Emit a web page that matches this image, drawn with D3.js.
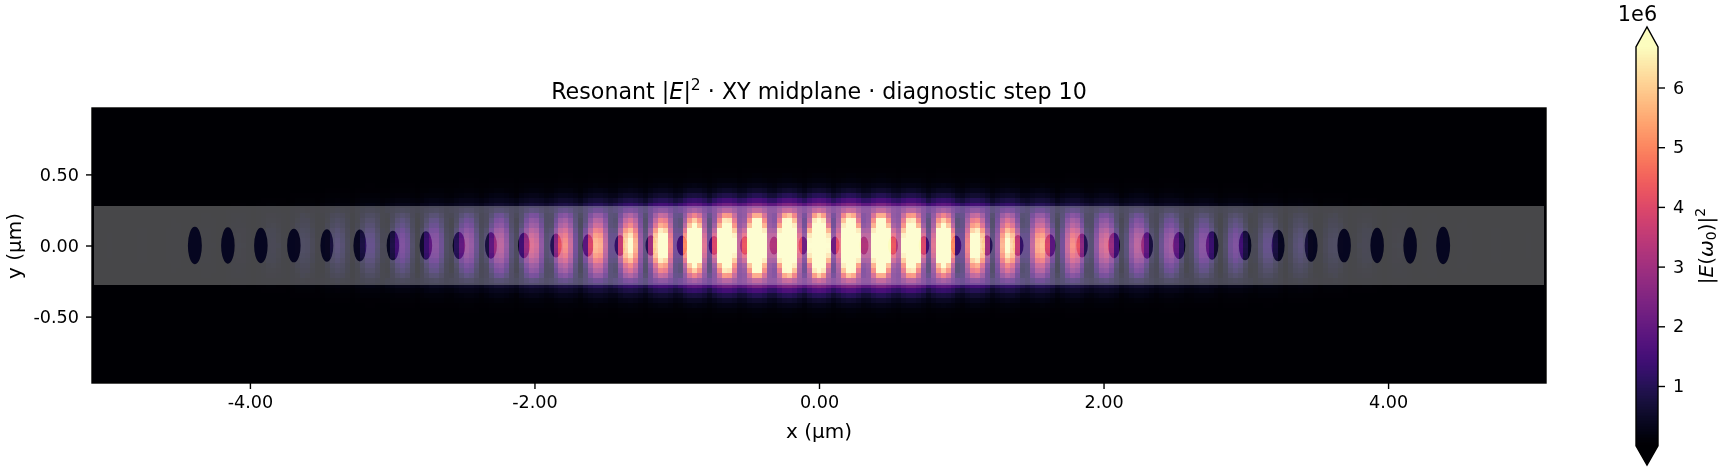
<!DOCTYPE html>
<html><head><meta charset="utf-8"><title>Resonant field</title>
<style>html,body{margin:0;padding:0;background:#fff}svg{display:block}text{font-family:"DejaVu Sans",sans-serif;fill:#000}</style>
<script src="https://cdn.jsdelivr.net/npm/d3@7"></script></head><body>
<svg id="c" width="1721" height="469"></svg>
<script>
// Estimates. The field cells are composed from these read
// tables (lobe peaks x cross-section profiles); it is not the source's raw grid.
const xTicks = [-4, -2, 0, 2, 4];
const yTicks = [-0.5, 0, 0.5];
const cbarTicks = [1, 2, 3, 4, 5, 6];
const titleParts = ["Resonant |", "E", "|", "2", " · XY midplane · diagnostic step 10"];
const xExtent = [-5.11, 5.11];
const yExtent = [-0.967, 0.967];
const vRange = [0, 6.68]; // x 1e6
const guideHalfHeight = 0.278;
// hole positions on +x side (mirrored), µm; full width and height, µm
const holeX = [0.112,0.316,0.52,0.738,0.963,1.181,1.399,1.624,1.849,2.074,2.306,2.531,2.763,2.995,3.227,3.459,3.691,3.923,4.155,4.387];
const holeW = [0.063,0.063,0.07,0.074,0.074,0.077,0.077,0.077,0.081,0.084,0.084,0.088,0.088,0.088,0.091,0.091,0.095,0.095,0.095,0.098];
const holeH = [0.127,0.127,0.13,0.134,0.141,0.144,0.148,0.157,0.169,0.178,0.185,0.19,0.199,0.209,0.223,0.227,0.237,0.248,0.255,0.262];
// field lobes on +x side (mirrored), µm; peak on the centre line, x 1e6
const lobeX = [0,0.218,0.436,0.647,0.872,1.104,1.329,1.554,1.786,2.011,2.243,2.468,2.7,2.931,3.156,3.381,3.613,3.845,4.077,4.302,4.53,4.76,4.99];
const lobePeak = [14,14,13.5,12.5,10.5,8.5,7,5.8,4.8,4,3.3,2.6,2.1,1.7,1.25,0.9,0.55,0.3,0.16,0.08,0.05,0.04,0.03];
// profiles against row number away from y=0
const lobeAcrossY = [1,0.97,0.9,0.78,0.62,0.5,0.33,0.12,0.03,0.01,0.004,0.002,0.001,0,0,0,0,0,0];
const gapAcrossY = [0,0.002,0.006,0.012,0.025,0.045,0.08,0.13,0.15,0.11,0.07,0.04,0.022,0.012,0.006,0.003,0.0015,0.0007,0];
const gapFloorY = [1,1,1,1,1,1,1,1,0.75,0.5,0.35,0.3,0.3,0.3,0.3,0.3,0.3,0.3,0.3];
const holeSideY = [1,1,0.95,0.7,0.3,0.08,0,0,0];
// profiles against offset in columns from a lobe centre
const lobeAcrossX = [1,0.8,0.36,0.05,0,0];
const bandAcrossX = [1,0.95,0.75,0.4,0.1,0];
const holeSideX = [0,0.08,0.22,0.12,0.02,0];
const holeSideGain = [0.55];
const holeTint = ["#060620"];

const x = d3.scaleLinear().domain(xExtent).range([92,1546]);
const y = d3.scaleLinear().domain(yExtent).range([383,108]);
const cbarY = d3.scaleLinear().domain([0,1]).range([445.7,386]);
const magma = d3.scaleSequential(d3.interpolateMagma).domain(vRange).clamp(true);
const dCol = (xExtent[1]-xExtent[0])/293, dRow = (yExtent[1]-yExtent[0])/55;
const lookup = t => d3.scaleLinear().domain(t.map((_,i)=>i)).range(t).clamp(true);
const LY = lookup(lobeAcrossY), GY = lookup(gapAcrossY), FY = lookup(gapFloorY), HY = lookup(holeSideY), LX = lookup(lobeAcrossX), BX = lookup(bandAcrossX), HX = lookup(holeSideX);
const lobes = lobeX.flatMap((p,i)=> i===0 ? [{x:0,a:lobePeak[0],s:0}] : [{x:p,a:lobePeak[i],s:1},{x:-p,a:lobePeak[i],s:-1}]);
const cells = [];
for (let j=-146;j<=146;j++) for (let i=-27;i<=27;i++) {
  const cx=j*dCol, cy=i*dRow, r=Math.abs(i);
  let v=0, near=lobes[0];
  for (const l of lobes) {
    if (Math.abs(l.x-cx)<Math.abs(near.x-cx)) near=l;
    const d=(cx-l.x)/dCol, ad=Math.abs(d);
    if (ad>6) continue;
    v+=l.a*LY(r)*LX(ad);
    const out = l.s===0 ? ad : (d*l.s>0 ? ad : 99);
    v+=l.a*holeSideGain[0]*HY(r)*HX(out);
  }
  const floor=FY(r), band=BX(Math.abs(cx-near.x)/dCol);
  v+=near.a*GY(r)*(floor+(1-floor)*band);
  if (v>0.012) cells.push({cx,cy,v});
}
const svg=d3.select("#c");
svg.append("rect").attr("x",x(xExtent[0])).attr("y",y(yExtent[1])).attr("width",x(xExtent[1])-x(xExtent[0])).attr("height",y(yExtent[0])-y(yExtent[1])).attr("fill",magma(0.012));
svg.append("g").attr("shape-rendering","crispEdges").selectAll("rect").data(cells).join("rect")
  .attr("x",d=>x(d.cx-dCol/2)).attr("y",d=>y(d.cy+dRow/2))
  .attr("width",d=>x(d.cx+dCol/2)-x(d.cx-dCol/2)).attr("height",d=>y(d.cy-dRow/2)-y(d.cy+dRow/2))
  .attr("fill",d=>magma(d.v));
// waveguide overlay with the holes cut out
const ell=(cxv,w,h)=>{const rx=x(cxv+w/2)-x(cxv),ry=y(0)-y(h/2);return `M${x(cxv)-rx},${y(0)}a${rx},${ry} 0 1,0 ${2*rx},0a${rx},${ry} 0 1,0 ${-2*rx},0Z`;};
let holesPath="";
holeX.forEach((h,i)=>{holesPath+=ell(h,holeW[i],holeH[i])+ell(-h,holeW[i],holeH[i]);});
svg.append("path").attr("d",holesPath).attr("fill",holeTint[0]).style("mix-blend-mode","lighten");
const guide=`M${x(xExtent[0])+2},${y(guideHalfHeight)}H${x(xExtent[1])-2}V${y(-guideHalfHeight)}H${x(xExtent[0])+2}Z`+holesPath;
svg.append("path").attr("d",guide).attr("fill","#fff").attr("fill-opacity",0.28).attr("fill-rule","evenodd");
svg.append("rect").attr("x",92).attr("y",108).attr("width",1454).attr("height",275).attr("fill","none").attr("stroke","#000").attr("stroke-width",1.4);
// axes
const fmt=d=>d3.format(".2f")(d).replace("−","-");
const style=g=>{g.selectAll("text").attr("font-size",17.6).attr("font-family","DejaVu Sans").attr("fill","#000");g.selectAll(".tick line").attr("stroke","#000").attr("stroke-width",1.4);g.select(".domain").remove();};
svg.append("g").attr("transform","translate(0,383)").call(d3.axisBottom(x).tickValues(xTicks).tickFormat(fmt).tickSize(6).tickPadding(7)).call(style);
svg.append("g").attr("transform","translate(92,0)").call(d3.axisLeft(y).tickValues(yTicks).tickFormat(fmt).tickSize(6).tickPadding(7)).call(style);
svg.append("text").attr("x",819).attr("y",438).attr("text-anchor","middle").attr("font-size",20).text("x (µm)");
svg.append("text").attr("transform","translate(21,246) rotate(-90)").attr("text-anchor","middle").attr("font-size",20).text("y (µm)");
const t=svg.append("text").attr("x",819).attr("y",99).attr("text-anchor","middle").attr("font-size",22.2);
t.append("tspan").text(titleParts[0]);
t.append("tspan").attr("font-style","oblique").text(titleParts[1]);
t.append("tspan").text(titleParts[2]);
t.append("tspan").attr("font-size",15.5).attr("dy",-9).text(titleParts[3]);
t.append("tspan").attr("dy",9).text(titleParts[4]);
// colour bar
const bx0=1636,bx1=1658,bTop=cbarY(vRange[1]),bBot=cbarY(vRange[0]);
const strips=d3.range(0,256).map(k=>vRange[0]+(vRange[1]-vRange[0])*k/255);
const cb=svg.append("g");
cb.append("g").attr("shape-rendering","crispEdges").selectAll("rect").data(strips).join("rect")
  .attr("x",bx0).attr("width",bx1-bx0).attr("y",d=>cbarY(d)-(bBot-bTop)/255-0.5).attr("height",(bBot-bTop)/255+1).attr("fill",d=>magma(d));
cb.append("path").attr("d",`M${bx0},${bTop}L${(bx0+bx1)/2},27L${bx1},${bTop}Z`).attr("fill",magma(vRange[1]));
cb.append("path").attr("d",`M${bx0},${bBot}L${(bx0+bx1)/2},465L${bx1},${bBot}Z`).attr("fill",magma(vRange[0]));
cb.append("path").attr("d",`M${bx0},${bTop}L${(bx0+bx1)/2},27L${bx1},${bTop}V${bBot}L${(bx0+bx1)/2},465L${bx0},${bBot}Z`).attr("fill","none").attr("stroke","#000").attr("stroke-width",1.4);
svg.append("g").attr("transform",`translate(${bx1},0)`).call(d3.axisRight(cbarY).tickValues(cbarTicks).tickFormat(d3.format("d")).tickSize(7).tickPadding(8)).call(style);
svg.append("text").attr("x",1637.5).attr("y",21).attr("text-anchor","middle").attr("font-size",20.8).text("1e6");
const cl=svg.append("text").attr("transform","translate(1713,246) rotate(-90)").attr("text-anchor","middle").attr("font-size",20);
cl.append("tspan").text("|");cl.append("tspan").attr("font-style","oblique").text("E");cl.append("tspan").text("(");
cl.append("tspan").attr("font-style","oblique").text("ω");cl.append("tspan").attr("font-size",14).attr("dy",3).text("0");
cl.append("tspan").attr("dy",-3).text(")|");cl.append("tspan").attr("font-size",14).attr("dy",-8).text("2");
</script></body></html>
